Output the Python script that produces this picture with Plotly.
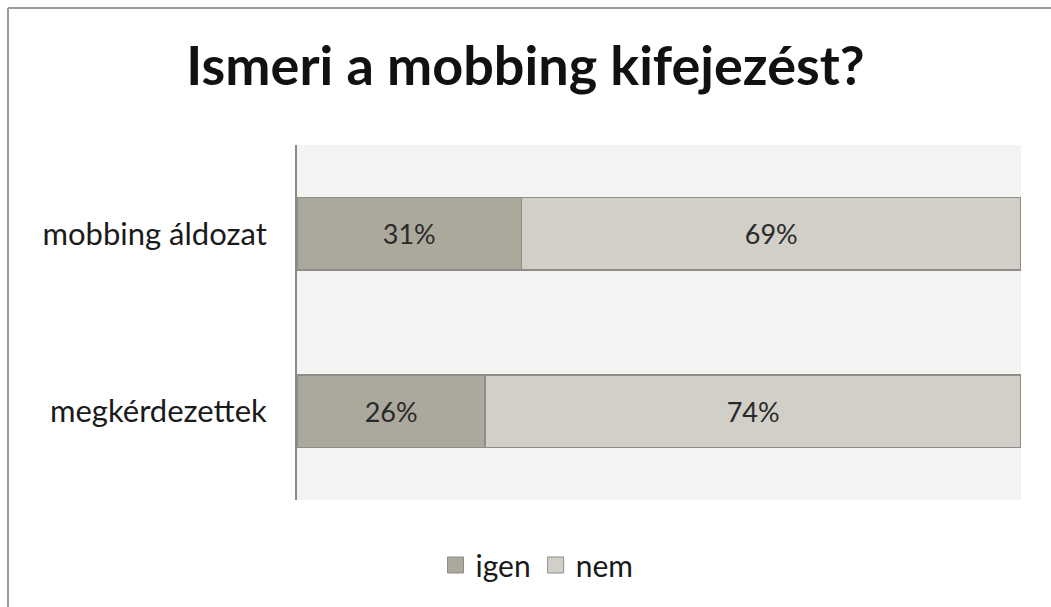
import plotly.graph_objects as go

categories = ["megkérdezettek", "mobbing áldozat"]
igen_values = [26, 31]
nem_values = [74, 69]
series_names = ["igen", "nem"]
title_text = "Ismeri a mobbing kifejezést?"

FONT = "Lato"
W, H = 1051, 607
ML, MR, MT, MB = 297, 30, 145, 107
PW, PH = W - ML - MR, H - MT - MB
COLORS = ["#aba99c", "#d1cfc7"]
OUTLINE = "#8e8d87"


def px_to_paper_x(px):
    return (px - ML) / PW


def px_to_paper_y(py):
    return (H - MB - py) / PH


fig = go.Figure()
for name, vals, color in zip(series_names, [igen_values, nem_values], COLORS):
    fig.add_trace(go.Bar(
        y=categories,
        x=vals,
        name=name,
        legendgroup=name,
        showlegend=False,
        orientation="h",
        marker=dict(color=color, line=dict(color=OUTLINE, width=1.5)),
        text=[f"{v}%" for v in vals],
        textposition="inside",
        insidetextanchor="middle",
        textfont=dict(family=FONT, size=27, color="#2a2a2a"),
        hoverinfo="skip",
    ))

# legend keys drawn as larger square markers
for name, color in zip(series_names, COLORS):
    fig.add_trace(go.Scatter(
        x=[None], y=[None],
        mode="markers",
        name=name,
        legendgroup=name,
        marker=dict(symbol="square", size=16, color=color,
                    line=dict(color=OUTLINE, width=1)),
        hoverinfo="skip",
    ))

fig.update_layout(
    width=W,
    height=H,
    barmode="stack",
    bargap=0.59,
    margin=dict(l=ML, r=MR, t=MT, b=MB, pad=0, autoexpand=False),
    paper_bgcolor="white",
    plot_bgcolor="#f3f3f1",
    title=dict(
        text=f"<b>{title_text}</b>",
        x=0.5, xref="container", xanchor="center",
        y=1 - 66 / H, yanchor="middle",
        font=dict(family=FONT, size=54, color="#111111"),
    ),
    xaxis=dict(range=[0, 100], visible=False, fixedrange=True),
    yaxis=dict(
        showline=True, linecolor="#8a8a8a", linewidth=2,
        ticks="", showgrid=False, zeroline=False,
        tickfont=dict(family=FONT, size=31, color="#1a1a1a"),
        ticklabelstandoff=22,
    ),
    legend=dict(
        orientation="h",
        traceorder="normal",
        x=px_to_paper_x(537), xanchor="center",
        y=px_to_paper_y(565), yanchor="middle",
        font=dict(family=FONT, size=30, color="#1a1a1a"),
        itemwidth=30,
        itemsizing="trace",
    ),
    showlegend=True,
    shapes=[
        dict(type="line", xref="paper", yref="paper",
             x0=px_to_paper_x(8), x1=px_to_paper_x(8),
             y0=px_to_paper_y(8), y1=px_to_paper_y(H),
             line=dict(color="#9a9a9a", width=2)),
        dict(type="line", xref="paper", yref="paper",
             x0=px_to_paper_x(8), x1=px_to_paper_x(W),
             y0=px_to_paper_y(8), y1=px_to_paper_y(8),
             line=dict(color="#9a9a9a", width=2)),
    ],
)

fig.write_html("out.html")
